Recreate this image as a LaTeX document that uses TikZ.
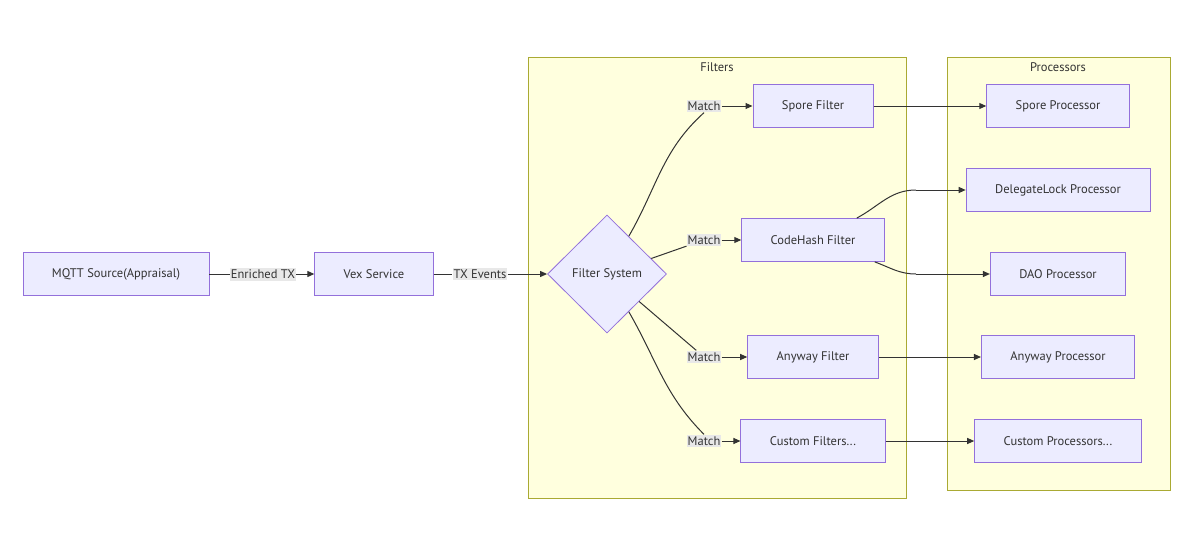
\documentclass[tikz,border=0pt]{standalone}
\usepackage{fontspec}
\setmainfont{PT Sans}
\usetikzlibrary{shapes.geometric,arrows.meta}
\definecolor{nodefill}{HTML}{ECECFF}
\definecolor{nodeline}{HTML}{9370DB}
\definecolor{clusterfill}{HTML}{FFFFDE}
\definecolor{clusterline}{HTML}{AAAA33}
\definecolor{labelfill}{HTML}{E8E8E8}
\definecolor{inkcol}{HTML}{333333}

\begin{document}
\begin{tikzpicture}[x=1pt,y=1pt,
  font=\fontsize{12.5}{15}\selectfont,
  box/.style={draw=nodeline,fill=nodefill,line width=0.8pt,minimum height=43pt,inner xsep=29pt,text=inkcol},
  decision/.style={diamond,draw=nodeline,fill=nodefill,line width=0.8pt,minimum width=119pt,minimum height=118pt,inner sep=0pt,text=inkcol},
  elabel/.style={fill=labelfill,inner xsep=1pt,inner ysep=2pt,text=inkcol},
  cluster/.style={draw=clusterline,fill=clusterfill,line width=0.8pt},
  edge/.style={draw=inkcol,line width=1pt},
  arrow/.style={edge,-{Triangle[length=7pt,width=6pt]}}
]

\useasboundingbox (0,0) rectangle (1200,-549);

% clusters
\draw[cluster] (528,-57) rectangle (906,-498);
\draw[cluster] (947,-57) rectangle (1170,-490);
\node[text=inkcol] (filterstitle) at (717,-67) {Filters};
\node[text=inkcol] (procstitle) at (1058,-67) {Processors};

% main line
\node[box] (mqtt) at (116,-274) {MQTT Source(Appraisal)};
\node[box] (vex) at (374,-274) {Vex Service};
\node[decision] (fs) at (607,-274) {Filter System};
\node[elabel] (etx) at (263,-274) {Enriched TX};
\node[elabel] (txe) at (480,-274) {TX Events};

% filters
\node[box] (sf) at (813,-106) {Spore Filter};
\node[box] (chf) at (813,-240) {CodeHash Filter};
\node[box] (af) at (813,-357) {Anyway Filter};
\node[box] (cf) at (813,-441) {Custom Filters...};
\node[elabel] (m1) at (704,-106) {Match};
\node[elabel] (m2) at (704,-240) {Match};
\node[elabel] (m3) at (704,-357) {Match};
\node[elabel] (m4) at (704,-441) {Match};

% processors
\node[box] (sp) at (1058,-106) {Spore Processor};
\node[box] (dlp) at (1058,-190) {DelegateLock Processor};
\node[box] (dao) at (1058,-274) {DAO Processor};
\node[box] (ap) at (1058,-357) {Anyway Processor};
\node[box] (cp) at (1058,-441) {Custom Processors...};

\coordinate (bendup) at (916,-190);
\coordinate (benddown) at (916,-274);

% edges
\draw[edge] (mqtt) -- (etx);
\draw[arrow] (etx) -- (vex);
\draw[edge] (vex) -- (txe);
\draw[arrow] (txe) -- (fs);

\draw[edge] (fs) to[out=60,in=-138] (m1.south);
\draw[arrow] (m1) -- (sf);
\draw[edge] (fs) -- (m2);
\draw[arrow] (m2) -- (chf);
\draw[edge] (fs) -- (m3);
\draw[arrow] (m3) -- (af);
\draw[edge] (fs) to[out=-60,in=135] (m4.north);
\draw[arrow] (m4) -- (cf);

\draw[arrow] (sf) -- (sp);
\draw[edge] ([xshift=-28pt]chf.north east) to[out=28,in=180] (bendup);
\draw[arrow] (bendup) -- (dlp);
\draw[edge] ([xshift=-10pt]chf.south east) to[out=-20,in=180] (benddown);
\draw[arrow] (benddown) -- (dao);
\draw[arrow] (af) -- (ap);
\draw[arrow] (cf) -- (cp);

\end{tikzpicture}
\end{document}
